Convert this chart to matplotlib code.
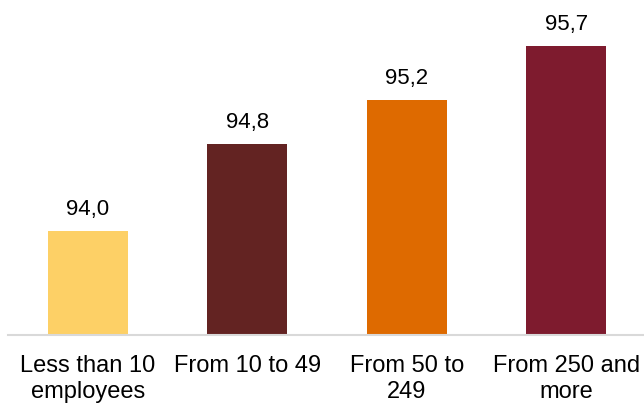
import matplotlib.pyplot as plt

# company size classes and their values
categories = ["Less than 10\nemployees", "From 10 to 49", "From 50 to\n249", "From 250 and\nmore"]
values = [94.0, 94.8, 95.2, 95.7]
colors = ["#FDD066", "#632322", "#DE6A00", "#7E1B2E"]

plt.rcParams['font.family'] = ['Liberation Sans', 'DejaVu Sans']

fig = plt.figure(figsize=(6.44, 4.05), dpi=100)
ax = fig.add_axes([8 / 644, 70 / 405, 638 / 644, 335 / 405])

x = range(len(values))
bars = ax.bar(x, values, width=0.5, color=colors)

ax.set_xlim(-0.5, 3.5)
ax.set_ylim(93.04, 96.12)

# value labels, decimal comma
for xi, v in zip(x, values):
    ax.annotate(f"{v:.1f}".replace(".", ","), (xi, v), xytext=(0, 11.5),
                textcoords="offset points", ha="center", va="baseline", fontsize=16)

ax.set_xticks(list(x))
ax.set_xticklabels(categories, fontsize=17, linespacing=1.2)
ax.tick_params(axis="x", length=0, pad=14.5)
ax.set_yticks([])

for s in ["top", "right", "left"]:
    ax.spines[s].set_visible(False)
ax.spines["bottom"].set_color("#D9D9D9")
ax.spines["bottom"].set_linewidth(1.5)

fig.savefig("out.png", dpi=100)
